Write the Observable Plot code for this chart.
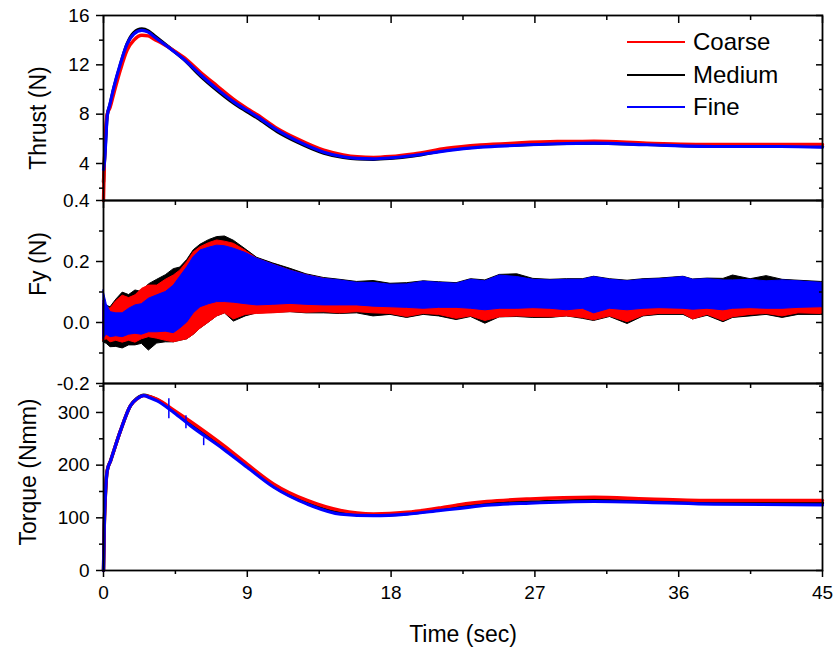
<!DOCTYPE html>
<html><head><meta charset="utf-8">
<script src="https://cdn.jsdelivr.net/npm/d3@7"></script>
<script src="https://cdn.jsdelivr.net/npm/@observablehq/plot@0.6"></script>
<style>
body{margin:0;background:#fff;}
#chart{position:relative;width:837px;height:651px;font-family:"Liberation Sans",Arial,Helvetica,sans-serif;color:#000;}
#chart svg{position:absolute;left:0;overflow:visible;}
.legend{position:absolute;left:627px;top:26px;font-size:24px;line-height:32.5px;}
.legend .row{display:flex;align-items:center;height:32.5px;}
.legend .sw{display:inline-block;width:58px;height:0;border-top:2px solid;margin-right:8px;}
</style></head><body><div id="chart"></div>
<script>
// ---------- DATA ----------
const seriesNames = ["Coarse", "Medium", "Fine"];
const seriesColors = ["#ff0000", "#000000", "#0000ff"];

const xMajor = [0, 9, 18, 27, 36, 45];
const xMinor = [4.5, 13.5, 22.5, 31.5, 40.5];
const xLabel = "Time (sec)";

// Thrust (N)
const thrustTitle = "Thrust (N)";
const thrustMajor = [4, 8, 12, 16];
const thrustMinor = [2, 6, 10, 14];
const thrustTime   = [0, 0.05, 0.13, 0.23, 0.4, 0.65, 1.06, 1.48, 1.9, 2.4, 2.8, 3.15, 3.98, 5.03, 6.07, 7.1, 8.15, 9.0, 9.62, 10.87, 12.12, 13.79, 15.0, 15.88, 16.9, 17.96, 19.42, 21.5, 23.6, 25.7, 28.4, 30.7, 34.0, 38.2, 42.4, 45];
const thrustCoarse = [1.0, 4.0, 6.5, 8.0, 8.5, 9.7, 11.6, 13.2, 14.0, 14.4, 14.35, 14.1, 13.5, 12.6, 11.4, 10.3, 9.2, 8.45, 7.95, 6.85, 6.0, 5.08, 4.7, 4.55, 4.5, 4.57, 4.78, 5.24, 5.5, 5.65, 5.78, 5.8, 5.65, 5.54, 5.54, 5.54];
const thrustMedium = [2.5, 4.0, 6.0, 7.9, 8.7, 10.1, 12.0, 13.7, 14.6, 14.9, 14.75, 14.4, 13.55, 12.45, 11.1, 9.95, 8.9, 8.2, 7.7, 6.6, 5.75, 4.85, 4.5, 4.38, 4.35, 4.42, 4.62, 5.1, 5.38, 5.5, 5.62, 5.66, 5.55, 5.42, 5.42, 5.38];
const thrustFine   = [3.5, 4.0, 5.5, 7.8, 8.8, 10.2, 12.1, 13.7, 14.5, 14.8, 14.65, 14.3, 13.5, 12.45, 11.2, 10.05, 9.0, 8.3, 7.8, 6.7, 5.83, 4.92, 4.55, 4.42, 4.38, 4.45, 4.65, 5.05, 5.32, 5.46, 5.6, 5.65, 5.52, 5.38, 5.38, 5.32];

// Fy (N): envelopes of the oscillating signal
const fyTitle = "Fy (N)";
const fyMajor = [-0.2, 0, 0.2, 0.4];
const fyMinor = [-0.1, 0.1, 0.3];
const fyTime     = [0, 0.2, 0.44, 0.8, 1.2, 1.6, 2.0, 2.4, 2.84, 3.36, 3.9, 4.4, 4.8, 5.24, 5.65, 6.07, 6.6, 7.11, 7.6, 8.16, 8.9, 9.62, 10.6, 11.7, 12.7, 13.79, 14.8, 15.87, 16.9, 17.96, 19.0, 20.04, 21.0, 22.1, 23.0, 23.9, 24.8, 25.9, 26.9, 27.97, 29.0, 30.0, 30.7, 31.7, 32.8, 33.8, 34.8, 36.3, 36.9, 37.8, 38.8, 39.4, 40.5, 41.5, 42.5, 43.5, 44.9, 45];
const fyFineLo   = [-0.053, -0.04, -0.048, -0.045, -0.048, -0.04, -0.037, -0.04, -0.032, -0.032, -0.03, -0.035, -0.02, 0.0, 0.03, 0.05, 0.06, 0.067, 0.067, 0.065, 0.06, 0.056, 0.058, 0.061, 0.058, 0.056, 0.056, 0.056, 0.052, 0.05, 0.048, 0.045, 0.048, 0.048, 0.045, 0.04, 0.045, 0.045, 0.047, 0.045, 0.04, 0.045, 0.03, 0.045, 0.04, 0.045, 0.047, 0.045, 0.042, 0.045, 0.04, 0.045, 0.047, 0.045, 0.045, 0.048, 0.05, 0.05];
const fyFineHi   = [0.105, 0.06, 0.034, 0.03, 0.03, 0.045, 0.056, 0.06, 0.078, 0.089, 0.1, 0.121, 0.15, 0.181, 0.215, 0.236, 0.245, 0.252, 0.25, 0.242, 0.228, 0.209, 0.19, 0.17, 0.155, 0.143, 0.138, 0.13, 0.13, 0.124, 0.125, 0.134, 0.13, 0.127, 0.14, 0.135, 0.154, 0.149, 0.14, 0.138, 0.14, 0.14, 0.149, 0.14, 0.135, 0.14, 0.142, 0.149, 0.14, 0.142, 0.138, 0.138, 0.14, 0.135, 0.138, 0.135, 0.13, 0.13];
const fyCoarseLo = [-0.06, -0.055, -0.065, -0.06, -0.066, -0.06, -0.066, -0.055, -0.048, -0.053, -0.06, -0.065, -0.06, -0.055, -0.04, -0.02, 0.0, 0.02, 0.03, 0.01, 0.025, 0.028, 0.03, 0.034, 0.032, 0.034, 0.03, 0.034, 0.03, 0.028, 0.018, 0.028, 0.025, 0.012, 0.02, 0.005, 0.017, 0.02, 0.018, 0.017, 0.02, 0.015, 0.007, 0.02, 0.001, 0.022, 0.028, 0.028, 0.01, 0.025, 0.005, 0.017, 0.025, 0.028, 0.02, 0.03, 0.028, 0.03];
const fyCoarseHi = [0.07, 0.05, 0.045, 0.07, 0.088, 0.08, 0.089, 0.11, 0.121, 0.121, 0.14, 0.154, 0.17, 0.198, 0.23, 0.247, 0.26, 0.269, 0.265, 0.258, 0.235, 0.209, 0.19, 0.17, 0.155, 0.143, 0.135, 0.128, 0.125, 0.12, 0.12, 0.128, 0.125, 0.125, 0.13, 0.13, 0.13, 0.13, 0.128, 0.128, 0.13, 0.13, 0.13, 0.128, 0.125, 0.128, 0.13, 0.13, 0.128, 0.128, 0.125, 0.128, 0.128, 0.125, 0.128, 0.125, 0.125, 0.125];
const fyMediumLo = [-0.065, -0.07, -0.081, -0.08, -0.085, -0.075, -0.075, -0.07, -0.092, -0.069, -0.065, -0.065, -0.06, -0.055, -0.04, -0.02, 0.0, 0.02, 0.03, 0.003, 0.02, 0.03, 0.032, 0.034, 0.03, 0.03, 0.028, 0.03, 0.02, 0.025, 0.015, 0.025, 0.02, 0.008, 0.018, -0.004, 0.017, 0.018, 0.015, 0.015, 0.02, 0.012, 0.005, 0.018, -0.005, 0.02, 0.025, 0.025, 0.01, 0.022, 0.001, 0.015, 0.02, 0.025, 0.015, 0.025, 0.025, 0.025];
const fyMediumHi = [0.06, 0.055, 0.05, 0.075, 0.098, 0.09, 0.105, 0.1, 0.125, 0.14, 0.155, 0.175, 0.18, 0.205, 0.237, 0.255, 0.27, 0.28, 0.282, 0.268, 0.24, 0.212, 0.194, 0.176, 0.158, 0.146, 0.14, 0.133, 0.136, 0.127, 0.129, 0.135, 0.132, 0.129, 0.142, 0.138, 0.156, 0.158, 0.143, 0.14, 0.142, 0.142, 0.15, 0.142, 0.137, 0.142, 0.144, 0.15, 0.141, 0.144, 0.143, 0.154, 0.142, 0.152, 0.14, 0.137, 0.133, 0.133];

// Torque (Nmm)
const torqueTitle = "Torque (Nmm)";
const torqueMajor = [0, 100, 200, 300];
const torqueMinor = [50, 150, 250, 350];
const torqueTime   = [0, 0.05, 0.13, 0.23, 0.44, 1.06, 1.69, 2.1, 2.52, 2.9, 3.36, 4.4, 5.44, 7.53, 8.99, 10.66, 12.75, 14.83, 16.9, 19.0, 21.1, 22.3, 24.0, 26.7, 30.7, 34.0, 38.2, 45];
const torqueCoarse = [0, 85, 150, 190, 208, 265, 313, 326, 332, 330, 325, 304.5, 283, 237, 202, 164, 133, 114, 107.5, 110.5, 119, 125, 131, 136, 139, 136, 133, 133];
const torqueMedium = [0, 85, 150, 189, 208, 265, 313, 327, 333, 330, 324, 302, 278, 233, 199, 160, 128, 109, 105, 108, 116, 121, 128, 130, 133, 131, 129, 128];
const torqueFine   = [0, 85, 151, 189, 208, 265, 313, 326, 332, 328, 322, 300, 275, 230, 196, 158, 126, 107, 104, 107, 114, 118, 124, 128, 131, 129.5, 126, 124.5];
const torqueSpikeTime = [4.09, 5.16, 6.27];
const torqueSpikeLo   = [288, 269, 237];
const torqueSpikeHi   = [326, 294, 252];

// ---------- BUILD ----------
const FONT = '"Liberation Sans", Arial, Helvetica, sans-serif';
const W = 837, ML = 103, MR = 15;
const chart = document.getElementById("chart");

const lineData = (time, vals) => time.map((t, i) => ({t, v: vals[i]}));
const bandData = (time, lo, hi) => time.map((t, i) => ({t, lo: lo[i], hi: hi[i]}));

function panel({top, height, mt, mb, yDomain, yMajor, yMinor, yFmt, title, titleDx, titleDy, marks, bottom}) {
  const m = [
    ...marks,
    Plot.frame({stroke: "black", strokeWidth: 1.8}),
    Plot.axisY({anchor: "left", ticks: yMajor, tickSize: 7, tickPadding: 7, tickFormat: yFmt, fontSize: 19, label: null, strokeWidth: 1.5}),
    Plot.axisY({anchor: "left", ticks: yMinor, tickSize: 4, fill: "none", label: null, strokeWidth: 1.5}),
    Plot.axisY({anchor: "right", ticks: yMajor, tickSize: 7, dx: -7, fill: "none", label: null, strokeWidth: 1.5}),
    Plot.axisY({anchor: "right", ticks: yMinor, tickSize: 4, dx: -4, fill: "none", label: null, strokeWidth: 1.5}),
    Plot.axisX({anchor: "top", ticks: xMajor, tickSize: 7, dy: 7, fill: "none", label: null, strokeWidth: 1.5}),
    Plot.axisX({anchor: "top", ticks: xMinor, tickSize: 4, dy: 4, fill: "none", label: null, strokeWidth: 1.5}),
    Plot.text([title], {frameAnchor: "left", text: d => d, rotate: -90, textAnchor: "middle", lineAnchor: "middle", dx: titleDx, dy: titleDy, fontSize: 23, fill: "black"})
  ];
  if (bottom) {
    m.push(
      Plot.axisX({anchor: "bottom", ticks: xMajor, tickSize: 7, tickPadding: 8, tickFormat: d => String(d), fontSize: 19, label: null, strokeWidth: 1.5}),
      Plot.axisX({anchor: "bottom", ticks: xMinor, tickSize: 4, fill: "none", label: null, strokeWidth: 1.5}),
      Plot.text([xLabel], {frameAnchor: "bottom", text: d => d, textAnchor: "middle", lineAnchor: "middle", dy: 64, fontSize: 23, fill: "black"})
    );
  }
  const svg = Plot.plot({
    width: W, height,
    marginLeft: ML, marginRight: MR, marginTop: mt, marginBottom: mb,
    x: {domain: [0, 45]},
    y: {domain: yDomain},
    style: {fontFamily: FONT, fontSize: "19px", color: "black", background: "transparent", overflow: "visible"},
    marks: m
  });
  svg.style.top = top + "px";
  chart.appendChild(svg);
}

const [cRed, cBlack, cBlue] = seriesColors;

panel({
  top: 0, height: 200, mt: 15, mb: 0,
  yDomain: [1, 16], yMajor: thrustMajor, yMinor: thrustMinor, yFmt: d => String(d),
  title: thrustTitle, titleDx: -65, titleDy: 10,
  marks: [
    Plot.line(lineData(thrustTime, thrustMedium), {x: "t", y: "v", stroke: cBlack, strokeWidth: 3.4, curve: "monotone-x"}),
    Plot.line(lineData(thrustTime, thrustCoarse), {x: "t", y: "v", stroke: cRed, strokeWidth: 3.4, curve: "monotone-x"}),
    Plot.line(lineData(thrustTime, thrustFine), {x: "t", y: "v", stroke: cBlue, strokeWidth: 3.2, curve: "monotone-x"})
  ]
});

panel({
  top: 200, height: 183, mt: 0, mb: 0,
  yDomain: [-0.2, 0.4], yMajor: fyMajor, yMinor: fyMinor, yFmt: d => d.toFixed(1),
  title: fyTitle, titleDx: -65, titleDy: -28,
  marks: [
    Plot.areaY(bandData(fyTime, fyMediumLo, fyMediumHi), {x: "t", y1: "lo", y2: "hi", fill: cBlack, stroke: cBlack, strokeWidth: 1}),
    Plot.areaY(bandData(fyTime, fyCoarseLo, fyCoarseHi), {x: "t", y1: "lo", y2: "hi", fill: cRed, stroke: cRed, strokeWidth: 1}),
    Plot.areaY(bandData(fyTime, fyFineLo, fyFineHi), {x: "t", y1: "lo", y2: "hi", fill: cBlue, stroke: cBlue, strokeWidth: 1})
  ]
});

panel({
  top: 383, height: 268, mt: 0, mb: 81,
  yDomain: [0, 355], yMajor: torqueMajor, yMinor: torqueMinor, yFmt: d => String(d),
  title: torqueTitle, titleDx: -75, titleDy: -5,
  bottom: true,
  marks: [
    Plot.line(lineData(torqueTime, torqueMedium), {x: "t", y: "v", stroke: cBlack, strokeWidth: 3.4, curve: "monotone-x"}),
    Plot.line(lineData(torqueTime, torqueCoarse), {x: "t", y: "v", stroke: cRed, strokeWidth: 3.4, curve: "monotone-x"}),
    Plot.line(lineData(torqueTime, torqueFine), {x: "t", y: "v", stroke: cBlue, strokeWidth: 3.2, curve: "monotone-x"}),
    Plot.ruleX(torqueSpikeTime.map((t, i) => ({t, lo: torqueSpikeLo[i], hi: torqueSpikeHi[i]})), {x: "t", y1: "lo", y2: "hi", stroke: cBlue, strokeWidth: 1.5})
  ]
});

// Legend
const legend = document.createElement("div");
legend.className = "legend";
seriesNames.forEach((name, i) => {
  const row = document.createElement("div");
  row.className = "row";
  const sw = document.createElement("span");
  sw.className = "sw";
  sw.style.borderTopColor = seriesColors[i];
  const tx = document.createElement("span");
  tx.textContent = name;
  row.appendChild(sw); row.appendChild(tx);
  legend.appendChild(row);
});
chart.appendChild(legend);
</script></body></html>
